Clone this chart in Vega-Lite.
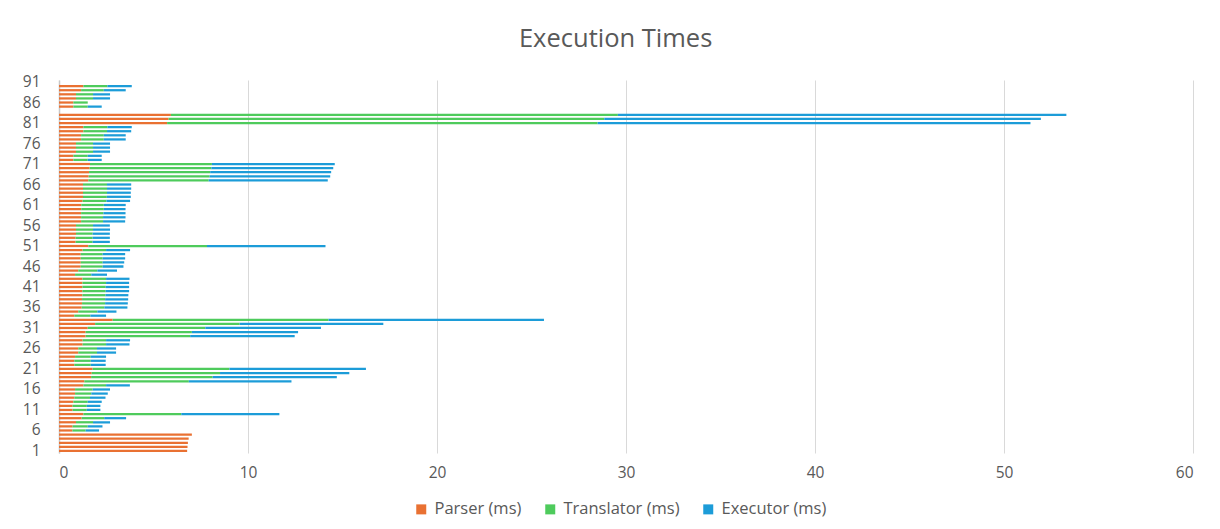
{
  "$schema": "https://vega.github.io/schema/vega-lite/v6.json",
  "autosize": "none",
  "width": 1134,
  "height": 373,
  "padding": {"left": 59, "top": 80, "right": 27, "bottom": 76},
  "background": "white",
  "config": {
    "font": "Open Sans",
    "view": {"stroke": null},
    "axis": {"labelColor": "#595959", "labelFontSize": 15.5, "labelFont": "Open Sans"},
    "legend": {"labelColor": "#595959", "labelFontSize": 16.5, "labelFont": "Open Sans"}
  },
  "title": {
    "text": "Execution Times",
    "fontSize": 25.5,
    "fontWeight": "normal",
    "color": "#595959",
    "font": "Open Sans",
    "anchor": "middle",
    "frame": "bounds",
    "offset": 22,
    "dx": 8
  },
  "datasets": {
    "series_info": [
      {"series": "parser", "rank": 1},
      {"series": "translator", "rank": 2},
      {"series": "executor", "rank": 3}
    ]
  },
  "data": {
    "values": [
      {"run": 1, "parser": 6.78, "translator": 0, "executor": 0},
      {"run": 2, "parser": 6.80, "translator": 0, "executor": 0},
      {"run": 3, "parser": 6.82, "translator": 0, "executor": 0},
      {"run": 4, "parser": 6.86, "translator": 0, "executor": 0},
      {"run": 5, "parser": 7.03, "translator": 0, "executor": 0},
      {"run": 6, "parser": 0.71, "translator": 0.70, "executor": 0.71},
      {"run": 7, "parser": 0.72, "translator": 0.80, "executor": 0.78},
      {"run": 8, "parser": 0.90, "translator": 0.90, "executor": 0.90},
      {"run": 9, "parser": 1.20, "translator": 1.19, "executor": 1.16},
      {"run": 10, "parser": 1.29, "translator": 5.18, "executor": 5.19},
      {"run": 11, "parser": 0.72, "translator": 0.75, "executor": 0.72},
      {"run": 12, "parser": 0.72, "translator": 0.75, "executor": 0.72},
      {"run": 13, "parser": 0.76, "translator": 0.76, "executor": 0.74},
      {"run": 14, "parser": 0.81, "translator": 0.83, "executor": 0.82},
      {"run": 15, "parser": 0.85, "translator": 0.86, "executor": 0.87},
      {"run": 16, "parser": 0.85, "translator": 0.93, "executor": 0.92},
      {"run": 17, "parser": 1.29, "translator": 1.20, "executor": 1.26},
      {"run": 18, "parser": 1.34, "translator": 5.53, "executor": 5.43},
      {"run": 19, "parser": 1.70, "translator": 6.43, "executor": 6.57},
      {"run": 20, "parser": 1.73, "translator": 6.79, "executor": 6.84},
      {"run": 21, "parser": 1.78, "translator": 7.24, "executor": 7.22},
      {"run": 22, "parser": 0.81, "translator": 0.87, "executor": 0.79},
      {"run": 23, "parser": 0.81, "translator": 0.87, "executor": 0.79},
      {"run": 24, "parser": 0.85, "translator": 0.83, "executor": 0.81},
      {"run": 25, "parser": 1.02, "translator": 0.99, "executor": 1.01},
      {"run": 26, "parser": 1.02, "translator": 0.99, "executor": 1.01},
      {"run": 27, "parser": 1.25, "translator": 1.24, "executor": 1.24},
      {"run": 28, "parser": 1.25, "translator": 1.24, "executor": 1.27},
      {"run": 29, "parser": 1.41, "translator": 5.53, "executor": 5.53},
      {"run": 30, "parser": 1.41, "translator": 5.62, "executor": 5.62},
      {"run": 31, "parser": 1.52, "translator": 6.22, "executor": 6.12},
      {"run": 32, "parser": 1.91, "translator": 7.65, "executor": 7.60},
      {"run": 33, "parser": 2.84, "translator": 11.42, "executor": 11.40},
      {"run": 34, "parser": 0.81, "translator": 0.85, "executor": 0.83},
      {"run": 35, "parser": 1.02, "translator": 1.01, "executor": 1.01},
      {"run": 36, "parser": 1.20, "translator": 1.20, "executor": 1.22},
      {"run": 37, "parser": 1.22, "translator": 1.22, "executor": 1.20},
      {"run": 38, "parser": 1.22, "translator": 1.22, "executor": 1.22},
      {"run": 39, "parser": 1.24, "translator": 1.22, "executor": 1.21},
      {"run": 40, "parser": 1.24, "translator": 1.23, "executor": 1.24},
      {"run": 41, "parser": 1.24, "translator": 1.23, "executor": 1.24},
      {"run": 42, "parser": 1.24, "translator": 1.25, "executor": 1.22},
      {"run": 43, "parser": 1.24, "translator": 1.25, "executor": 1.24},
      {"run": 44, "parser": 0.85, "translator": 0.86, "executor": 0.83},
      {"run": 45, "parser": 1.02, "translator": 1.01, "executor": 1.04},
      {"run": 46, "parser": 1.15, "translator": 1.16, "executor": 1.10},
      {"run": 47, "parser": 1.15, "translator": 1.16, "executor": 1.14},
      {"run": 48, "parser": 1.15, "translator": 1.16, "executor": 1.19},
      {"run": 49, "parser": 1.15, "translator": 1.16, "executor": 1.19},
      {"run": 50, "parser": 1.25, "translator": 1.24, "executor": 1.27},
      {"run": 51, "parser": 1.55, "translator": 6.28, "executor": 6.27},
      {"run": 52, "parser": 0.88, "translator": 0.90, "executor": 0.91},
      {"run": 53, "parser": 0.88, "translator": 0.90, "executor": 0.91},
      {"run": 54, "parser": 0.90, "translator": 0.88, "executor": 0.91},
      {"run": 55, "parser": 0.90, "translator": 0.90, "executor": 0.90},
      {"run": 56, "parser": 0.90, "translator": 0.90, "executor": 0.89},
      {"run": 57, "parser": 1.17, "translator": 1.16, "executor": 1.17},
      {"run": 58, "parser": 1.17, "translator": 1.16, "executor": 1.19},
      {"run": 59, "parser": 1.17, "translator": 1.18, "executor": 1.17},
      {"run": 60, "parser": 1.18, "translator": 1.19, "executor": 1.15},
      {"run": 61, "parser": 1.18, "translator": 1.19, "executor": 1.16},
      {"run": 62, "parser": 1.25, "translator": 1.26, "executor": 1.25},
      {"run": 63, "parser": 1.27, "translator": 1.26, "executor": 1.27},
      {"run": 64, "parser": 1.27, "translator": 1.27, "executor": 1.26},
      {"run": 65, "parser": 1.27, "translator": 1.27, "executor": 1.28},
      {"run": 66, "parser": 1.27, "translator": 1.27, "executor": 1.28},
      {"run": 67, "parser": 1.55, "translator": 6.37, "executor": 6.30},
      {"run": 68, "parser": 1.57, "translator": 6.40, "executor": 6.38},
      {"run": 69, "parser": 1.59, "translator": 6.41, "executor": 6.40},
      {"run": 70, "parser": 1.62, "translator": 6.44, "executor": 6.45},
      {"run": 71, "parser": 1.64, "translator": 6.45, "executor": 6.50},
      {"run": 72, "parser": 0.76, "translator": 0.76, "executor": 0.74},
      {"run": 73, "parser": 0.76, "translator": 0.76, "executor": 0.74},
      {"run": 74, "parser": 0.90, "translator": 0.90, "executor": 0.90},
      {"run": 75, "parser": 0.90, "translator": 0.90, "executor": 0.90},
      {"run": 76, "parser": 0.90, "translator": 0.90, "executor": 0.90},
      {"run": 77, "parser": 1.17, "translator": 1.20, "executor": 1.16},
      {"run": 78, "parser": 1.17, "translator": 1.20, "executor": 1.16},
      {"run": 79, "parser": 1.29, "translator": 1.25, "executor": 1.28},
      {"run": 80, "parser": 1.29, "translator": 1.27, "executor": 1.29},
      {"run": 81, "parser": 5.72, "translator": 22.78, "executor": 22.90},
      {"run": 82, "parser": 5.80, "translator": 23.05, "executor": 23.10},
      {"run": 83, "parser": 5.92, "translator": 23.65, "executor": 23.73},
      {"run": 85, "parser": 0.76, "translator": 0.76, "executor": 0.74},
      {"run": 86, "parser": 0.76, "translator": 0.76, "executor": 0},
      {"run": 87, "parser": 0.90, "translator": 0.90, "executor": 0.90},
      {"run": 88, "parser": 0.90, "translator": 0.90, "executor": 0.90},
      {"run": 89, "parser": 1.17, "translator": 1.20, "executor": 1.16},
      {"run": 90, "parser": 1.29, "translator": 1.27, "executor": 1.29}
    ]
  },
  "transform": [
    {"fold": ["parser", "translator", "executor"], "as": ["series", "ms"]},
    {"lookup": "series", "from": {"data": {"name": "series_info"}, "key": "series", "fields": ["rank"]}}
  ],
  "mark": {"type": "bar"},
  "encoding": {
    "y": {
      "field": "run",
      "type": "ordinal",
      "scale": {
        "domain": [91,90,89,88,87,86,85,84,83,82,81,80,79,78,77,76,75,74,73,72,71,70,69,68,67,66,65,64,63,62,61,60,59,58,57,56,55,54,53,52,51,50,49,48,47,46,45,44,43,42,41,40,39,38,37,36,35,34,33,32,31,30,29,28,27,26,25,24,23,22,21,20,19,18,17,16,15,14,13,12,11,10,9,8,7,6,5,4,3,2,1],
        "paddingInner": 0.45,
        "paddingOuter": 0.22
      },
      "axis": {
        "title": null,
        "values": [1,6,11,16,21,26,31,36,41,46,51,56,61,66,71,76,81,86,91],
        "ticks": false,
        "domain": true,
        "domainColor": "#C8C8C8",
        "domainWidth": 1.5,
        "labelPadding": 19,
        "grid": false
      }
    },
    "x": {
      "field": "ms",
      "type": "quantitative",
      "stack": "zero",
      "scale": {"domain": [0, 60], "nice": false},
      "axis": {
        "title": null,
        "values": [0,10,20,30,40,50,60],
        "ticks": false,
        "domain": false,
        "grid": true,
        "gridColor": "#D9D9D9",
        "gridWidth": 1,
        "labelPadding": 12
      }
    },
    "order": {"field": "rank", "type": "quantitative", "sort": "ascending"},
    "color": {
      "field": "series",
      "type": "nominal",
      "scale": {
        "domain": ["parser", "translator", "executor"],
        "range": ["#E97132", "#4ECB5C", "#1C9CD8"]
      },
      "legend": {
        "title": null,
        "orient": "none",
        "direction": "horizontal",
        "legendX": 354,
        "legendY": 421,
        "symbolType": "square",
        "symbolSize": 100,
        "symbolStrokeWidth": 0,
        "labelOffset": 5,
        "columnPadding": 20,
        "labelExpr": "datum.value == 'parser' ? 'Parser (ms)' : datum.value == 'translator' ? 'Translator (ms)' : 'Executor (ms)'"
      }
    }
  }
}
